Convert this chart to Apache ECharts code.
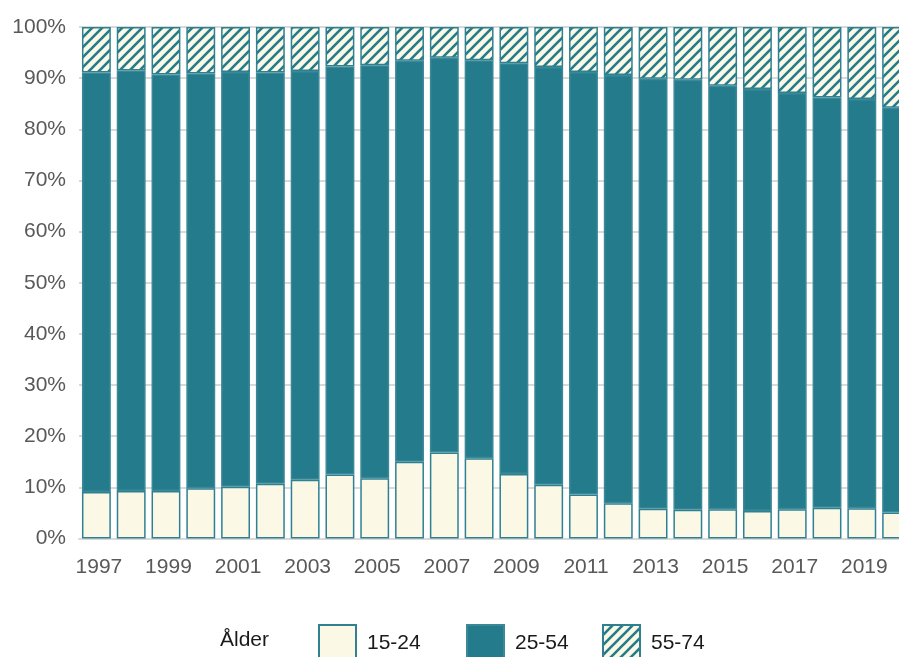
<!DOCTYPE html>
<html>
<head>
<meta charset="utf-8">
<script src="https://cdn.jsdelivr.net/npm/echarts@6/dist/echarts.min.js"></script>
<style>
  html, body { margin: 0; padding: 0; background: #ffffff; }
  #chart { width: 899px; height: 657px; }
</style>
</head>
<body>
<div id="chart"></div>
<script>
const years = ['1997','1998','1999','2000','2001','2002','2003','2004','2005','2006','2007','2008','2009','2010','2011','2012','2013','2014','2015','2016','2017','2018','2019','2020'];
const age15_24 = [9.1, 9.3, 9.3, 9.8, 10.1, 10.7, 11.5, 12.5, 11.8, 15.0, 16.8, 15.7, 12.6, 10.5, 8.6, 6.9, 5.8, 5.6, 5.7, 5.4, 5.7, 6.0, 5.9, 5.1];
const age25_54 = [82.0, 82.2, 81.4, 81.1, 81.1, 80.4, 79.9, 79.8, 80.7, 78.4, 77.2, 77.8, 80.3, 81.7, 82.6, 83.7, 84.1, 84.1, 82.8, 82.5, 81.4, 80.2, 80.0, 79.1];
const age55_74 = [8.9, 8.5, 9.3, 9.1, 8.8, 8.9, 8.6, 7.7, 7.5, 6.6, 6.0, 6.5, 7.1, 7.8, 8.8, 9.4, 10.1, 10.3, 11.5, 12.1, 12.9, 13.8, 14.1, 15.8];
const seriesNames = ['15-24', '25-54', '55-74'];
const legendTitle = 'Ålder';

const TEAL = '#237b8c';
const CREAM = '#fcf8e6';

function hatchCanvas() {
  const c = document.createElement('canvas');
  c.width = 10; c.height = 10;
  const ctx = c.getContext('2d');
  ctx.fillStyle = CREAM;
  ctx.fillRect(0, 0, 10, 10);
  ctx.strokeStyle = TEAL;
  ctx.lineWidth = 2.6;
  ctx.beginPath();
  ctx.moveTo(-5, 5); ctx.lineTo(5, -5);
  ctx.moveTo(0, 10); ctx.lineTo(10, 0);
  ctx.moveTo(5, 15); ctx.lineTo(15, 5);
  ctx.stroke();
  return c;
}

const chart = echarts.init(document.getElementById('chart'), null, { renderer: 'canvas' });
const labelFont = "'Liberation Sans', Arial, sans-serif";
const legendFont = "'Liberation Sans', Arial, sans-serif";

const legendBase = {
  top: 624,
  padding: 0,
  icon: 'rect',
  itemWidth: 37,
  itemHeight: 36,
  textStyle: { fontFamily: legendFont, fontSize: 21, color: '#1a1a1a', padding: [0, 0, 0, 6] }
};

chart.setOption({
  animation: false,
  backgroundColor: '#ffffff',
  grid: { left: 79, top: 27, width: 835, bottom: 118.5, containLabel: false, outerBoundsMode: 'none' },
  xAxis: {
    type: 'category',
    data: years,
    axisTick: { show: false },
    axisLine: { lineStyle: { color: '#d9d9d9', width: 2 } },
    axisLabel: { interval: 1, margin: 18, color: '#595959', fontSize: 21, fontFamily: labelFont, padding: [0, 0, 0, 5] }
  },
  yAxis: {
    type: 'value',
    min: 0, max: 100, interval: 10,
    axisLine: { show: false },
    axisTick: { show: false },
    splitLine: { lineStyle: { color: '#d9d9d9', width: 2 } },
    axisLabel: { formatter: '{value}%', margin: 13, color: '#595959', fontSize: 21, fontFamily: labelFont }
  },
  legend: [
    Object.assign({}, legendBase, { left: 318, data: [seriesNames[0]] }),
    Object.assign({}, legendBase, { left: 466, data: [seriesNames[1]] }),
    Object.assign({}, legendBase, { left: 602, data: [seriesNames[2]] })
  ],
  graphic: [{
    type: 'text',
    left: 220,
    top: 630,
    style: { text: legendTitle, font: "21px " + legendFont, fill: '#1a1a1a' }
  }],
  series: [
    {
      name: seriesNames[0], type: 'bar', stack: 'total', data: age15_24,
      barCategoryGap: '17%',
      itemStyle: { color: CREAM, borderColor: '#2f8192', borderWidth: 1.5 }
    },
    {
      name: seriesNames[1], type: 'bar', stack: 'total', data: age25_54,
      barCategoryGap: '17%',
      itemStyle: { color: TEAL, borderColor: '#3b8997', borderWidth: 1.5 }
    },
    {
      name: seriesNames[2], type: 'bar', stack: 'total', data: age55_74,
      barCategoryGap: '17%',
      itemStyle: { color: { image: hatchCanvas(), repeat: 'repeat' }, borderColor: '#2f8192', borderWidth: 1.5 }
    }
  ]
});
</script>
</body>
</html>
